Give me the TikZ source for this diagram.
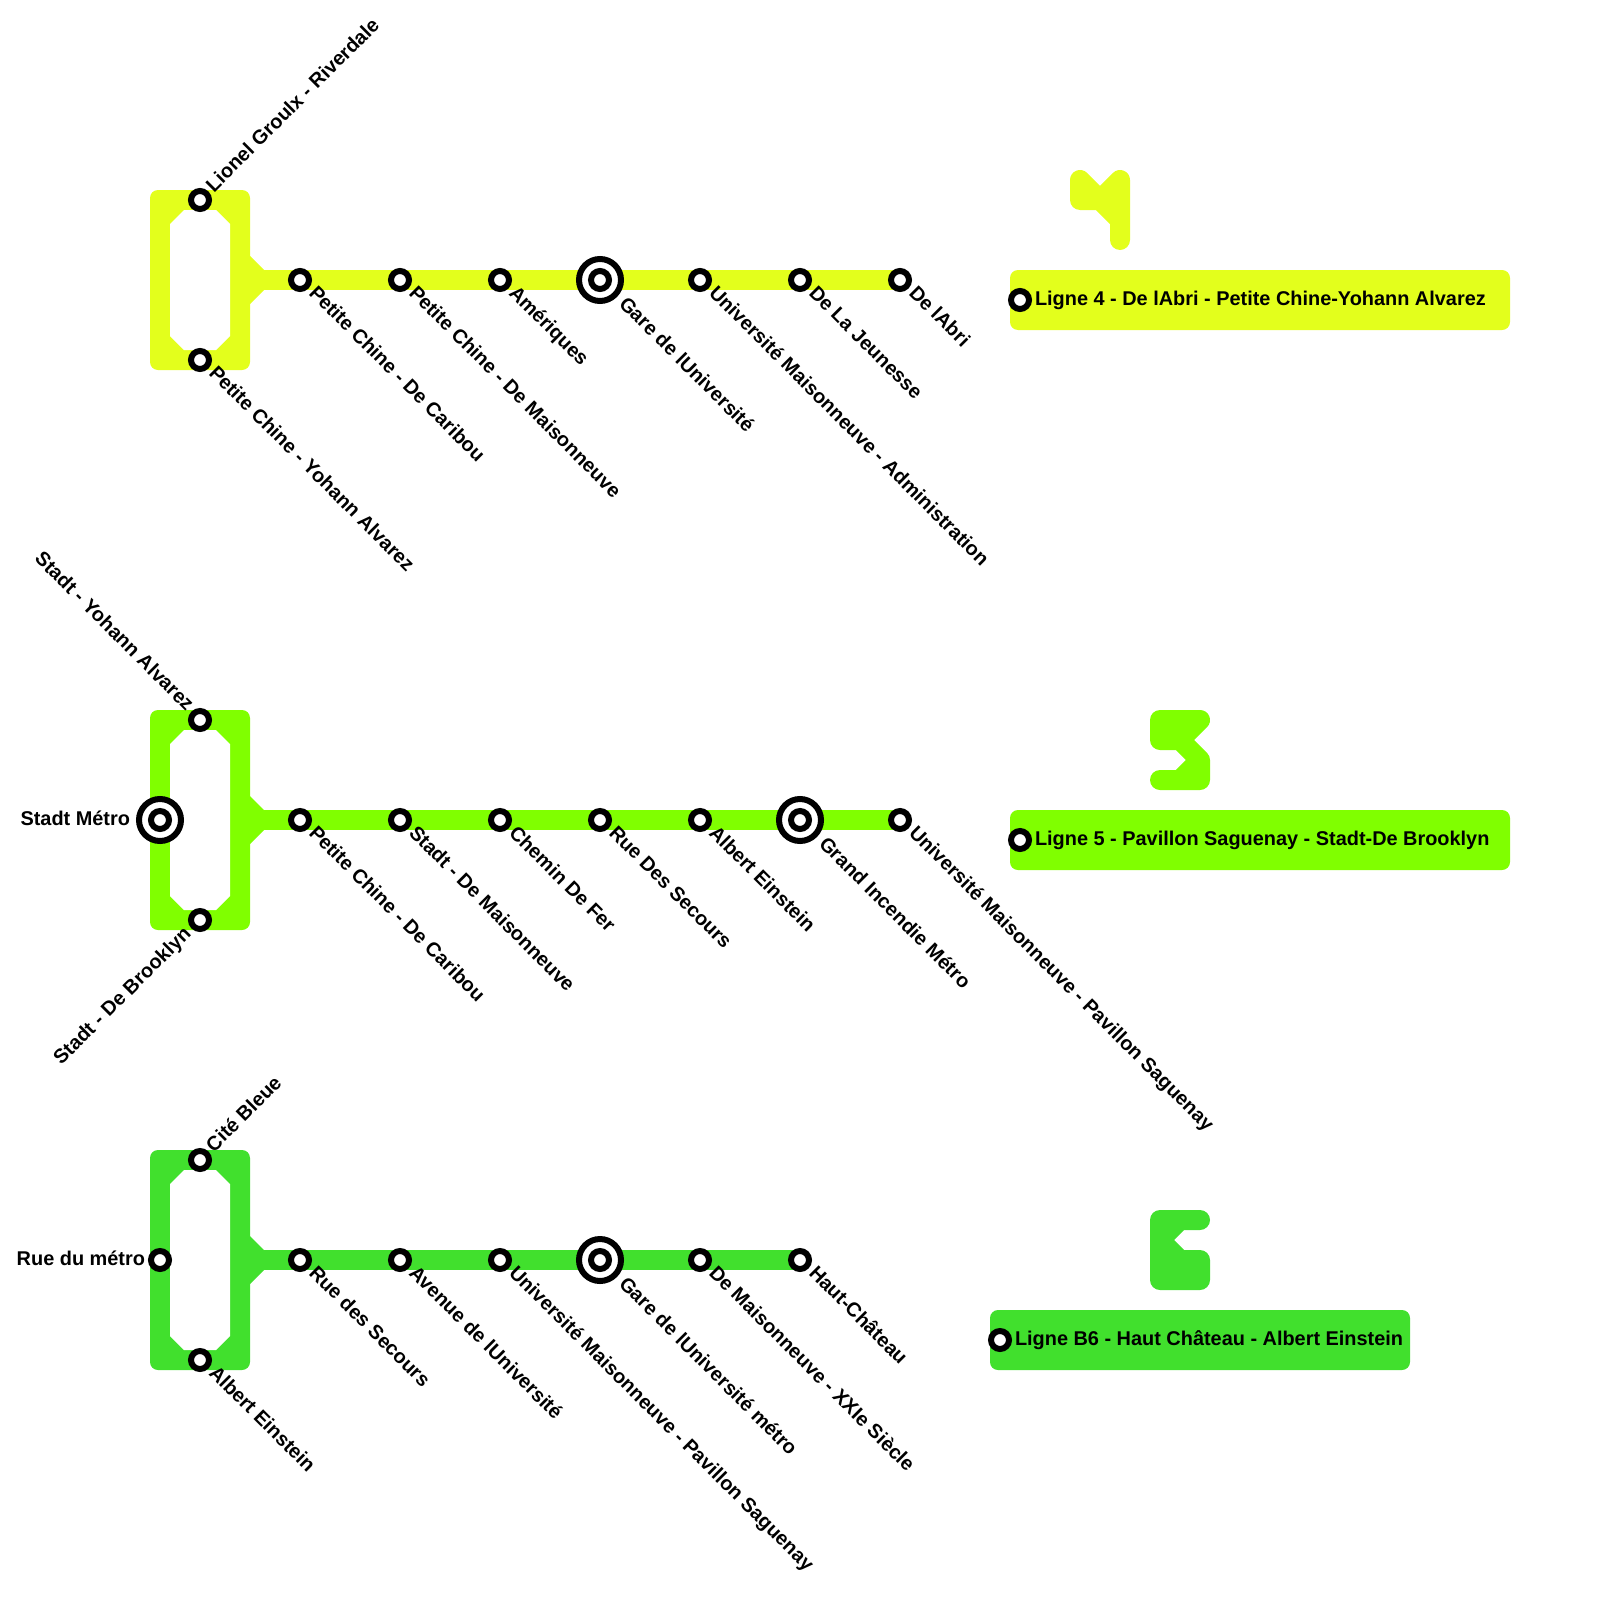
\documentclass[tikz,border=0pt]{standalone}
\usepackage{fontspec}
\setmainfont{Liberation Sans}
\usetikzlibrary{backgrounds}
\definecolor{lineA}{HTML}{E3FF1C}
\definecolor{lineB}{HTML}{80FF00}
\definecolor{lineC}{HTML}{41E02D}
\tikzset{
  stn/.style={circle,draw=black,fill=white,line width=6pt,minimum size=18pt,inner sep=0pt,outer sep=0pt},
  hubring/.style={circle,draw=black,fill=white,line width=6pt,minimum size=42pt,inner sep=0pt,outer sep=0pt},
  txt/.style={font=\fontsize{19.9}{24}\selectfont\bfseries,inner sep=0pt,outer sep=0pt,text=black},
  lblDown/.style={txt,anchor=base west,rotate=-45},
  lblUp/.style={txt,anchor=base west,rotate=45},
  lblUpLeft/.style={txt,anchor=base east,rotate=-45},
  lblDownLeft/.style={txt,anchor=base east,rotate=45},
  lblLeft/.style={txt,anchor=base east},
  lblLegend/.style={txt,anchor=base west},
  track/.style={line width=20pt,line cap=butt},
  glyph/.style={line width=20pt,line cap=round,line join=round},
}
\newcommand{\stnD}[4]{\node[stn] (#1) at (#2,#3) {}; \node[lblDown] (#1t) at ([shift={(8,14)}]#1.center) {#4};}
\newcommand{\hubD}[4]{\node[hubring] (#1o) at (#2,#3) {}; \node[stn] (#1) at (#2,#3) {}; \node[lblDown] (#1t) at ([shift={(18,25)}]#1.center) {#4};}
\newcommand{\loopshape}[3]{%
  \fill[#1,rounded corners=8pt] (150,#2) rectangle (250,#3);
  \fill[white] (170,#2+34) -- (184,#2+20) -- (216,#2+20) -- (230,#2+34) -- (230,#3-34) -- (216,#3-20) -- (184,#3-20) -- (170,#3-34) -- cycle;
}
\newcommand{\junction}[2]{%
  \fill[#1] (250,#2-24) -- (264,#2-10) -- (264,#2+10) -- (250,#2+24) -- cycle;
}
\begin{document}
\begin{tikzpicture}[x=1pt,y=-1pt]
\useasboundingbox (0,0) rectangle (1600,1600);

% --- Line 4 ---
\loopshape{lineA}{190}{370}
\junction{lineA}{280}
\coordinate (ja) at (250,280);
\stnD{a1}{300}{280}{Petite Chine - De Caribou}
\stnD{a2}{400}{280}{Petite Chine - De Maisonneuve}
\stnD{a3}{500}{280}{Amériques}
\hubD{a4}{600}{280}{Gare de lUniversité}
\stnD{a5}{700}{280}{Université Maisonneuve - Administration}
\stnD{a6}{800}{280}{De La Jeunesse}
\stnD{a7}{900}{280}{De lAbri}
\node[stn] (at) at (200,200) {};
\node[lblUp] (atl) at ([shift={(14,-7)}]at.center) {Lionel Groulx - Riverdale};
\stnD{ab}{200}{360}{Petite Chine - Yohann Alvarez}
\begin{scope}[on background layer]
  \draw[track,lineA] (ja) -- (a7.center);
\end{scope}

% --- Line 5 ---
\loopshape{lineB}{710}{930}
\junction{lineB}{820}
\coordinate (jb) at (250,820);
\stnD{b1}{300}{820}{Petite Chine - De Caribou}
\stnD{b2}{400}{820}{Stadt - De Maisonneuve}
\stnD{b3}{500}{820}{Chemin De Fer}
\stnD{b4}{600}{820}{Rue Des Secours}
\stnD{b5}{700}{820}{Albert Einstein}
\hubD{b6}{800}{820}{Grand Incendie Métro}
\stnD{b7}{900}{820}{Université Maisonneuve - Pavillon Saguenay}
\node[stn] (bt) at (200,720) {};
\node[lblUpLeft] (btl) at ([shift={(-14,-8)}]bt.center) {Stadt - Yohann Alvarez};
\node[stn] (bb) at (200,920) {};
\node[lblDownLeft] (bbl) at ([shift={(-8,15)}]bb.center) {Stadt - De Brooklyn};
\node[hubring] (bho) at (160,820) {};
\node[stn] (bh) at (160,820) {};
\node[lblLeft] (bhl) at (130,825) {Stadt Métro};
\begin{scope}[on background layer]
  \draw[track,lineB] (jb) -- (b7.center);
\end{scope}

% --- Line B6 ---
\loopshape{lineC}{1150}{1370}
\junction{lineC}{1260}
\coordinate (jc) at (250,1260);
\stnD{c1}{300}{1260}{Rue des Secours}
\stnD{c2}{400}{1260}{Avenue de lUniversité}
\stnD{c3}{500}{1260}{Université Maisonneuve - Pavillon Saguenay}
\hubD{c4}{600}{1260}{Gare de lUniversité métro}
\stnD{c5}{700}{1260}{De Maisonneuve - XXIe Siècle}
\stnD{c6}{800}{1260}{Haut-Château}
\node[stn] (ct) at (200,1160) {};
\node[lblUp] (ctl) at ([shift={(14,-7)}]ct.center) {Cité Bleue};
\stnD{cb}{200}{1360}{Albert Einstein}
\node[stn] (cl) at (160,1260) {};
\node[lblLeft] (cll) at (145,1265) {Rue du métro};
\begin{scope}[on background layer]
  \draw[track,lineC] (jc) -- (c6.center);
\end{scope}

% --- Legend glyphs ---
\filldraw[glyph,draw=lineA,fill=lineA] (1080,180) -- (1100,200) -- (1120,180) -- (1120,240) -- (1120,220) -- (1100,200) -- (1080,200) -- cycle;
\filldraw[glyph,draw=lineB,fill=lineB] (1160,720) -- (1200,720) -- (1180,740) -- (1200,760) -- (1200,780) -- (1160,780) -- (1180,780) -- (1200,760) -- (1180,740) -- (1160,740) -- cycle;
\filldraw[glyph,draw=lineC,fill=lineC] (1160,1220) -- (1200,1220) -- (1180,1220) -- (1160,1240) -- (1180,1260) -- (1200,1260) -- (1200,1280) -- (1160,1280) -- cycle;

% --- Legend boxes ---
\fill[lineA,rounded corners=8pt] (1010,270) rectangle (1510,330);
\node[stn] (la) at (1020,300) {};
\node[lblLegend] (lat) at (1035,305) {Ligne 4 - De lAbri - Petite Chine-Yohann Alvarez};
\fill[lineB,rounded corners=8pt] (1010,810) rectangle (1510,870);
\node[stn] (lb) at (1020,840) {};
\node[lblLegend] (lbt) at (1035,845) {Ligne 5 - Pavillon Saguenay - Stadt-De Brooklyn};
\fill[lineC,rounded corners=8pt] (990,1310) rectangle (1410,1370);
\node[stn] (lc) at (1000,1340) {};
\node[lblLegend] (lct) at (1015,1345) {Ligne B6 - Haut Château - Albert Einstein};
\end{tikzpicture}
\end{document}
